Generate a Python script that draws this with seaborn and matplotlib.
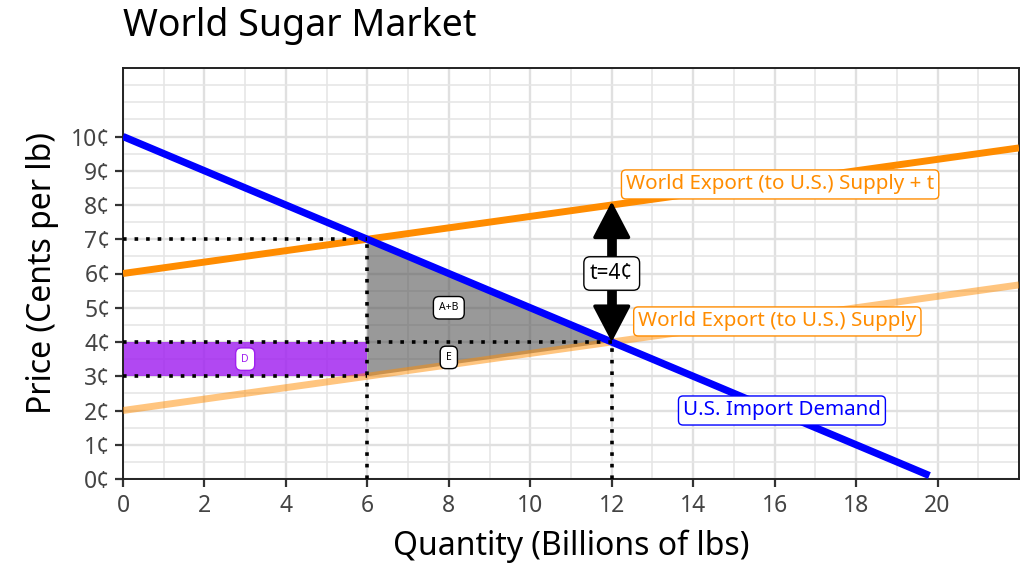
import numpy as np
import pandas as pd
import seaborn as sns
import matplotlib.pyplot as plt
from matplotlib.ticker import FixedLocator

# ---------------- data ----------------
title = "World Sugar Market"
x_label = "Quantity (Billions of lbs)"
y_label = "Price (Cents per lb)"

demand_q = [0, 19.8]
demand_p = [10, 0.1]
supply_q = [0, 22]
supply_p = [2, 2 + 22 / 6]
supply_t_q = [0, 22]
supply_t_p = [6, 6 + 22 / 6]

q_tariff = 6       # quantity imported with tariff
p_consumer = 7     # U.S. price with tariff
p_world = 3        # world price received with tariff
q_free = 12        # free trade quantity
p_free = 4         # free trade price
tariff_top = 8.1

x_ticks = [0, 2, 4, 6, 8, 10, 12, 14, 16, 18, 20]
y_ticks = [0, 1, 2, 3, 4, 5, 6, 7, 8, 9, 10]
y_tick_labels = [f"{v}¢" for v in y_ticks]

label_supply_t = "World Export (to U.S.) Supply + t"
label_supply = "World Export (to U.S.) Supply"
label_demand = "U.S. Import Demand"
label_tariff = "t=4¢"
area_ab = "A+B"
area_e = "E"
area_d = "D"

# ---------------- style ----------------
sns.set_theme(style="whitegrid")
plt.rcParams['font.family'] = ['Noto Sans', 'DejaVu Sans']

ORANGE = "#FF8C00"
BLUE = "#0000FF"
PURPLE = "#A020F0"

fig, ax = plt.subplots(figsize=(10.30, 5.64), dpi=100)
fig.subplots_adjust(left=123 / 1030, right=1019 / 1030, top=1 - 68 / 564, bottom=1 - 479 / 564)

# shaded areas
ax.fill_between([0, q_tariff], [p_world, p_world], [p_free, p_free],
                color=PURPLE, alpha=0.82, linewidth=0, zorder=2)
ax.fill([q_tariff, q_free, q_tariff], [p_consumer, p_free, p_world],
        color="#555555", alpha=0.6, linewidth=0, zorder=2)

# curves
df_s = pd.DataFrame({"q": supply_q, "p": supply_p})
df_st = pd.DataFrame({"q": supply_t_q, "p": supply_t_p})
df_d = pd.DataFrame({"q": demand_q, "p": demand_p})
sns.lineplot(data=df_s, x="q", y="p", ax=ax, color=ORANGE, alpha=0.5, linewidth=5,
             solid_capstyle="butt", zorder=3)
sns.lineplot(data=df_st, x="q", y="p", ax=ax, color=ORANGE, linewidth=5,
             solid_capstyle="butt", zorder=3)
sns.lineplot(data=df_d, x="q", y="p", ax=ax, color=BLUE, linewidth=5.2,
             solid_capstyle="butt", zorder=4)

# dotted guides
dot = dict(color="black", linestyle=(0, (1, 2.2)), linewidth=2.6, zorder=5)
ax.plot([0, q_tariff], [p_consumer, p_consumer], **dot)
ax.plot([0, q_free], [p_free, p_free], **dot)
ax.plot([0, q_tariff], [p_world, p_world], **dot)
ax.plot([q_tariff, q_tariff], [0, p_consumer], **dot)
ax.plot([q_free, q_free], [0, p_free], **dot)

# tariff arrow: thick shaft + filled heads
ax.plot([q_free, q_free], [p_free + 0.5, tariff_top - 0.5], color="black", linewidth=7,
        solid_capstyle="butt", zorder=6)
ax.annotate("", xy=(q_free, p_free), xytext=(q_free, tariff_top),
            arrowprops=dict(arrowstyle="<|-|>,head_length=1.05,head_width=0.55", lw=2.5,
                            color="black", shrinkA=0, shrinkB=0, mutation_scale=22,
                            joinstyle="round"),
            zorder=6)
ax.text(q_free, 6.0, label_tariff, ha="center", va="center", fontsize=15,
        color="black", zorder=7,
        bbox=dict(boxstyle="round,pad=0.3", fc="white", ec="black", lw=1))

# curve labels
ax.text(12.35, 8.6, label_supply_t, ha="left", va="center", fontsize=14.8, color=ORANGE, zorder=7,
        bbox=dict(boxstyle="round,pad=0.22", fc="white", ec=ORANGE, lw=1))
ax.text(12.65, 4.6, label_supply, ha="left", va="center", fontsize=14.8, color=ORANGE, zorder=7,
        bbox=dict(boxstyle="round,pad=0.22", fc="white", ec=ORANGE, lw=1))
ax.text(13.75, 2.0, label_demand, ha="left", va="center", fontsize=14.8, color=BLUE, zorder=7,
        bbox=dict(boxstyle="round,pad=0.22", fc="white", ec=BLUE, lw=1))

# area labels
small_box = dict(boxstyle="round,pad=0.55", fc="white", ec="black", lw=1)
ax.text(8, 5.0, area_ab, ha="center", va="center", fontsize=7.5, color="black", zorder=7, bbox=small_box)
ax.text(8, 3.55, area_e, ha="center", va="center", fontsize=7.5, color="black", zorder=7, bbox=small_box)
ax.text(3, 3.5, area_d, ha="center", va="center", fontsize=7.5, color=PURPLE, zorder=7,
        bbox=dict(boxstyle="round,pad=0.55", fc="white", ec=PURPLE, lw=1))

# axes
ax.set_xlim(0, 22)
ax.set_ylim(0, 12)
ax.set_xticks(x_ticks)
ax.set_xticklabels([str(v) for v in x_ticks])
ax.set_yticks(y_ticks)
ax.set_yticklabels(y_tick_labels)
ax.xaxis.set_minor_locator(FixedLocator([v for v in range(0, 23) if v % 2 == 1] + [22]))
ax.yaxis.set_minor_locator(FixedLocator([v / 2 for v in range(0, 25) if v / 2 not in y_ticks]))
ax.grid(which="major", color="#E0E0E0", linewidth=1.7)
ax.grid(which="minor", color="#E6E6E6", linewidth=1.2)
ax.set_axisbelow(True)
ax.tick_params(axis="both", which="major", direction="out", length=6, width=1.6, color="#333333",
               labelsize=16.5, labelcolor="#444444", pad=3, bottom=True, left=True)
ax.tick_params(axis="x", which="major", pad=5)
ax.tick_params(axis="both", which="minor", length=0)
for s in ax.spines.values():
    s.set_color("#222222")
    s.set_linewidth(1.4)

ax.set_xlabel(x_label, fontsize=23, color="black", labelpad=8)
ax.set_ylabel(y_label, fontsize=23, color="black", labelpad=9)
fig.text(123 / 1030, 1 - 26 / 564, title, fontsize=27, ha="left", va="center", color="black")

fig.savefig("out.png", dpi=100)
